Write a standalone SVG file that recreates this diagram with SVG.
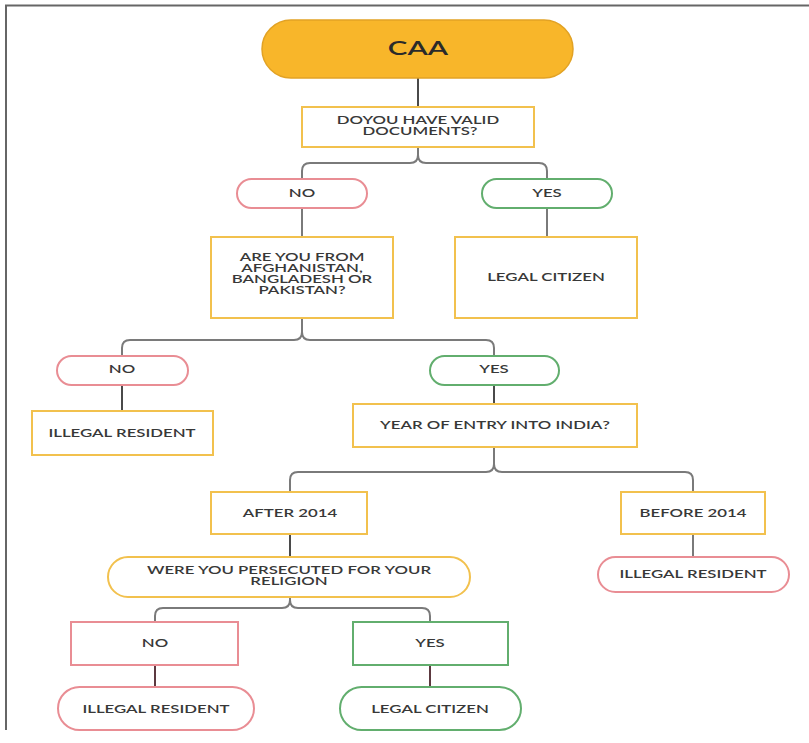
<svg xmlns="http://www.w3.org/2000/svg" width="809" height="743" viewBox="0 0 809 743">
<style>
.t{font-family:Lato,"Liberation Sans",sans-serif;font-size:10.5px;font-weight:600;fill:#383838;text-anchor:middle}
.big{font-size:18.5px;font-weight:600;fill:#2a2a2a}
.y{fill:#fff;stroke:#F2C14E;stroke-width:2}
.r{fill:#fff;stroke:#E98D94;stroke-width:2}
.g{fill:#fff;stroke:#62AE6E;stroke-width:2}
.c{fill:none;stroke:#7a7a7a;stroke-width:2}
.d{fill:none;stroke:#4a4a4a;stroke-width:2}
.m{fill:none;stroke:#5c3940;stroke-width:2}
</style>
<rect width="809" height="743" fill="#fff"/>
<path d="M6,730 V5.5 H809" fill="none" stroke="#666" stroke-width="2"/>
<g id="connectors">
<path class="d" d="M418,78 V107"/>
<path class="c" d="M418,147 V155 Q418,163 410,163 H310 Q302,163 302,171 V179 M418,155 Q418,163 426,163 H539 Q547,163 547,171 V179"/>
<path class="c" d="M302,208 V237"/>
<path class="c" d="M547,208 V237"/>
<path class="c" d="M302,318 V332 Q302,340 294,340 H130 Q122,340 122,348 V356 M302,332 Q302,340 310,340 H486 Q494,340 494,348 V356"/>
<path class="d" d="M122,385 V411"/>
<path class="d" d="M494,385 V404"/>
<path class="c" d="M494,447 V464 Q494,472 486,472 H298 Q290,472 290,480 V492 M494,464 Q494,472 502,472 H685 Q693,472 693,480 V492"/>
<path class="d" d="M290,534 V557"/>
<path class="c" d="M693,534 V557"/>
<path class="c" d="M290,597 V600 Q290,608 282,608 H163 Q155,608 155,616 V622 M290,600 Q290,608 298,608 H422 Q430,608 430,616 V622"/>
<path class="m" d="M155,665 V687"/>
<path class="m" d="M430,665 V687"/>
</g>
<g id="caa">
<rect x="262" y="20" width="311" height="58" rx="29" fill="#F8B62A" stroke="#E2A224" stroke-width="1.5"/>
<text class="t big" transform="matrix(1.6,0,0,1,418,55)">CAA</text>
</g>
<g id="q-documents">
<rect class="y" x="302" y="107" width="232" height="40"/>
<text class="t" transform="matrix(1.6,0,0,1,418,124)">DOYOU HAVE  VALID</text>
<text class="t" transform="matrix(1.6,0,0,1,420,134.5)">DOCUMENTS?</text>
</g>
<g id="no-1">
<rect class="r" x="237" y="179" width="130" height="29" rx="14.5"/>
<text class="t" transform="matrix(1.6,0,0,1,302,197)">NO</text>
</g>
<g id="yes-1">
<rect class="g" x="482" y="179" width="130" height="29" rx="14.5"/>
<text class="t" transform="matrix(1.6,0,0,1,547,197)">YES</text>
</g>
<g id="q-country">
<rect class="y" x="211" y="237" width="182" height="81"/>
<text class="t" transform="matrix(1.6,0,0,1,302,261)">ARE YOU FROM</text>
<text class="t" transform="matrix(1.6,0,0,1,302,272)">AFGHANISTAN,</text>
<text class="t" transform="matrix(1.6,0,0,1,302,283)">BANGLADESH  OR</text>
<text class="t" transform="matrix(1.6,0,0,1,302,293.5)">PAKISTAN?</text>
</g>
<g id="legal-citizen-1">
<rect class="y" x="455" y="237" width="182" height="81"/>
<text class="t" transform="matrix(1.6,0,0,1,546,281)">LEGAL CITIZEN</text>
</g>
<g id="no-2">
<rect class="r" x="57" y="356" width="131" height="29" rx="14.5"/>
<text class="t" transform="matrix(1.6,0,0,1,122,373)">NO</text>
</g>
<g id="yes-2">
<rect class="g" x="430" y="356" width="129" height="29" rx="14.5"/>
<text class="t" transform="matrix(1.6,0,0,1,494,373)">YES</text>
</g>
<g id="illegal-resident-1">
<rect class="y" x="32" y="411" width="181" height="44"/>
<text class="t" transform="matrix(1.6,0,0,1,122,437)">ILLEGAL RESIDENT</text>
</g>
<g id="q-year">
<rect class="y" x="353" y="404" width="284" height="43"/>
<text class="t" transform="matrix(1.6,0,0,1,495,429)">YEAR OF ENTRY INTO INDIA?</text>
</g>
<g id="after-2014">
<rect class="y" x="211" y="492" width="156" height="42"/>
<text class="t" transform="matrix(1.6,0,0,1,290,517)">AFTER 2014</text>
</g>
<g id="before-2014">
<rect class="y" x="621" y="492" width="144" height="42"/>
<text class="t" transform="matrix(1.6,0,0,1,693,517)">BEFORE 2014</text>
</g>
<g id="q-persecuted">
<rect class="y" x="108" y="557" width="362" height="40" rx="20"/>
<text class="t" transform="matrix(1.6,0,0,1,289,574)">WERE YOU PERSECUTED FOR YOUR</text>
<text class="t" transform="matrix(1.6,0,0,1,289,585)">RELIGION</text>
</g>
<g id="illegal-resident-2">
<rect class="r" x="598" y="557" width="191" height="35" rx="17.5"/>
<text class="t" transform="matrix(1.6,0,0,1,693,578)">ILLEGAL RESIDENT</text>
</g>
<g id="no-3">
<rect class="r" x="71" y="622" width="167" height="43"/>
<text class="t" transform="matrix(1.6,0,0,1,155,647)">NO</text>
</g>
<g id="yes-3">
<rect class="g" x="353" y="622" width="155" height="43"/>
<text class="t" transform="matrix(1.6,0,0,1,430,647)">YES</text>
</g>
<g id="illegal-resident-3">
<rect class="r" x="58" y="687" width="196" height="43" rx="21.5"/>
<text class="t" transform="matrix(1.6,0,0,1,156,713)">ILLEGAL RESIDENT</text>
</g>
<g id="legal-citizen-2">
<rect class="g" x="340" y="687" width="181" height="43" rx="21.5"/>
<text class="t" transform="matrix(1.6,0,0,1,430,713)">LEGAL CITIZEN</text>
</g>
</svg>
